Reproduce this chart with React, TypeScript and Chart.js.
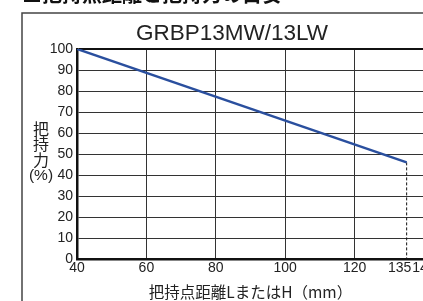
import React, { useEffect, useRef } from "react";
import { Chart, registerables } from "chart.js";

Chart.register(...registerables);

const heading = "■把持点距離と把持力の目安";
const chartTitle = "GRBP13MW/13LW";
const xAxisTitle = "把持点距離LまたはH（mm）";
const yAxisTitleLines = ["把", "持", "力", "(%)"];

const distance = [40, 135];
const gripForce = [100, 46];
const limitX = [135, 135];
const limitY = [46, 0];
const xTickValues = [40, 60, 80, 100, 120, 135, 140];
const xTickLabels: Record<number, string> = { 40: "40", 60: "60", 80: "80", 100: "100", 120: "120", 135: "135\u3000", 140: "140" };

const W = 470;
const H = 301;

export default function App() {
  const ref = useRef<HTMLCanvasElement | null>(null);
  useEffect(() => {
    if (!ref.current) return;
    const deco = {
      id: "deco",
      beforeDraw(chart: any) {
        const ctx = chart.ctx;
        ctx.save();
        ctx.fillStyle = "#fff";
        ctx.fillRect(0, 0, W, H);
        ctx.strokeStyle = "#444";
        ctx.lineWidth = 1.5;
        ctx.strokeRect(22, 13, 420, 320);
        ctx.fillStyle = "#111";
        ctx.font = 'bold 20px "Noto Sans CJK JP"';
        ctx.textBaseline = "alphabetic";
        ctx.textAlign = "left";
        ctx.fillText(heading, 22, 2);
        ctx.fillStyle = "#222";
        ctx.font = '22.5px "Liberation Sans", Arial, sans-serif';
        ctx.textAlign = "center";
        ctx.fillText(chartTitle, 232, 40);
        ctx.font = '16px "Noto Sans CJK JP"';
        ctx.textBaseline = "middle";
        const ys = [128.5, 144, 159.5, 175.5];
        yAxisTitleLines.forEach((t, i) => {
          if (t === "(%)") {
            ctx.font = '15.5px "Liberation Sans", Arial, sans-serif';
          }
          ctx.fillText(t, 41, ys[i]);
        });
        ctx.restore();
      },
    };
    const chart = new Chart(ref.current, {
      type: "line",
      data: {
        datasets: [
          {
            data: distance.map((x, i) => ({ x, y: gripForce[i] })),
            borderColor: "#2a4f9e",
            borderWidth: 2.5,
            pointRadius: 0,
            fill: false,
          },
          {
            data: limitX.map((x, i) => ({ x, y: limitY[i] })),
            borderColor: "#111",
            borderWidth: 1,
            borderDash: [3, 2],
            pointRadius: 0,
            fill: false,
          },
        ],
      },
      options: {
        responsive: false,
        animation: false,
        layout: { padding: { left: 0, top: 49, right: W - 424, bottom: 0 } },
        plugins: { legend: { display: false }, tooltip: { enabled: false }, title: { display: false } },
        scales: {
          x: {
            type: "linear",
            min: 40,
            max: 140,
            afterBuildTicks: (s: any) => {
              s.ticks = xTickValues.map((v) => ({ value: v }));
            },
            afterFit: (s: any) => {
              s.height = H - 259;
            },
            ticks: {
              autoSkip: false,
              maxRotation: 0,
              padding: 1,
              color: "#222",
              font: { family: '"Liberation Sans", Arial, sans-serif', size: 14 },
              callback: (v: any) => xTickLabels[v as number] ?? String(v),
            },
            grid: {
              drawTicks: false,
              color: (c: any) => (c.tick && c.tick.value === 135 ? "rgba(0,0,0,0)" : c.tick && c.tick.value === 140 ? "#111" : "#333"),
              lineWidth: (c: any) => (c.tick && c.tick.value === 140 ? 2 : 1),
            },
            border: { display: true, color: "#111", width: 2.5 },
            title: {
              display: true,
              text: xAxisTitle,
              color: "#222",
              font: { family: '"Noto Sans CJK JP"', size: 15.5 },
              padding: { top: 0, bottom: 0 },
            },
          },
          y: {
            min: 0,
            max: 100,
            afterFit: (s: any) => {
              s.width = 77;
            },
            ticks: {
              stepSize: 10,
              padding: 4,
              color: "#222",
              font: { family: '"Liberation Sans", Arial, sans-serif', size: 14 },
            },
            grid: {
              drawTicks: false,
              color: (c: any) => (c.tick && c.tick.value === 100 ? "#111" : "#333"),
              lineWidth: (c: any) => (c.tick && c.tick.value === 100 ? 2 : 1),
            },
            border: { display: true, color: "#111", width: 2.5 },
          },
        },
      },
      plugins: [deco],
    });
    return () => chart.destroy();
  }, []);
  return (
    <div style={{ position: "fixed", left: 0, top: 0, width: 423, height: 301, overflow: "hidden", background: "#fff" }}>
      <canvas ref={ref} width={W} height={H} style={{ width: W, height: H, display: "block" }} />
    </div>
  );
}
